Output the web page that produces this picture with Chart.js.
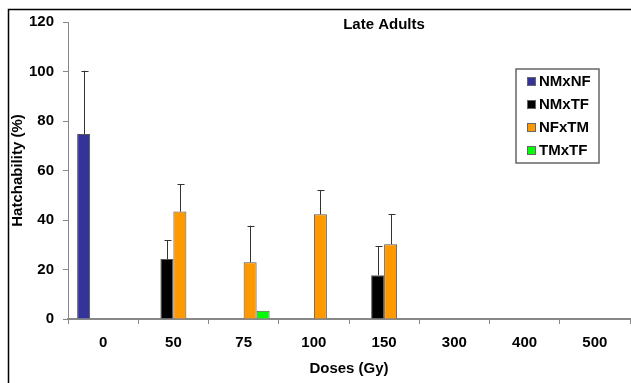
<!DOCTYPE html>
<html>
<head>
<meta charset="utf-8">
<script src="https://cdn.jsdelivr.net/npm/chart.js@4.4.1/dist/chart.umd.min.js"></script>
<style>
  body { margin: 0; background: #fff; }
</style>
</head>
<body>
<canvas id="hatch" width="631" height="383"></canvas>
<script>
// doses on the x axis
const doses = ["0", "50", "75", "100", "150", "300", "400", "500"];

// mean hatchability (%) per cross, null = no bar
const nmxnf = [74.7, null, null, null, null, null, null, null];
const nmxtf = [null, 24.2, null, null, 17.7, null, null, null];
const nfxtm = [null, 43.4, 22.9, 42.3, 30.2, null, null, null];
const tmxtf = [null, null, 3.3, null, null, null, null, null];

// upper error (sd) per cross
const nmxnfErr = [25.6, null, null, null, null, null, null, null];
const nmxtfErr = [null, 7.7, null, null, 11.7, null, null, null];
const nfxtmErr = [null, 11.0, 14.8, 9.7, 12.1, null, null, null];
const tmxtfErr = [null, null, null, null, null, null, null, null];

const yTicks = [0, 20, 40, 60, 80, 100, 120];

const FONT = "'Liberation Sans', Arial, sans-serif";

// error bars (upper half only, like the excel original)
const errorBars = {
  id: "errorBars",
  afterDatasetsDraw(chart) {
    const ctx = chart.ctx;
    const y = chart.scales.y;
    chart.data.datasets.forEach((ds, i) => {
      const meta = chart.getDatasetMeta(i);
      meta.data.forEach((bar, j) => {
        const v = ds.data[j], e = ds.errors[j];
        if (v == null || e == null) return;
        const top = y.getPixelForValue(v + e);
        const x = Math.round(bar.x) + 0.5;
        ctx.save();
        ctx.strokeStyle = "#333";
        ctx.lineWidth = 1;
        ctx.beginPath();
        ctx.moveTo(x, bar.y);
        ctx.lineTo(x, top);
        ctx.moveTo(x - 3, Math.round(top) + 0.5);
        ctx.lineTo(x + 4, Math.round(top) + 0.5);
        ctx.stroke();
        ctx.restore();
      });
    });
  }
};

// frame, title and the boxed legend
const decor = {
  id: "decor",
  afterDraw(chart) {
    const ctx = chart.ctx;
    ctx.save();
    ctx.strokeStyle = "#000";
    ctx.lineWidth = 1.5;
    ctx.beginPath();
    ctx.moveTo(8.5, 383);
    ctx.lineTo(8.5, 9.5);
    ctx.lineTo(631, 9.5);
    ctx.stroke();

    ctx.fillStyle = "#000";
    ctx.font = "bold 15px " + FONT;
    ctx.textAlign = "center";
    ctx.textBaseline = "middle";
    ctx.fillText("Late Adults", 384, 25);

    // legend box
    ctx.strokeStyle = "#666";
    ctx.lineWidth = 1.5;
    ctx.strokeRect(516, 69, 83, 94);
    ctx.textAlign = "left";
    chart.data.datasets.forEach((ds, i) => {
      const cy = 82 + i * 23;
      ctx.fillStyle = ds.backgroundColor;
      ctx.fillRect(528, cy - 4, 7, 7);
      ctx.strokeStyle = "#666";
      ctx.lineWidth = 1;
      ctx.strokeRect(527.5, cy - 4.5, 8, 8);
      ctx.fillStyle = "#000";
      ctx.fillText(ds.label, 539, cy);
    });
    ctx.restore();
  }
};

const config = {
  type: "bar",
  data: {
    labels: doses,
    datasets: [
      { label: "NMxNF", data: nmxnf, errors: nmxnfErr, backgroundColor: "#333399" },
      { label: "NMxTF", data: nmxtf, errors: nmxtfErr, backgroundColor: "#000000" },
      { label: "NFxTM", data: nfxtm, errors: nfxtmErr, backgroundColor: "#FF9900" },
      { label: "TMxTF", data: tmxtf, errors: tmxtfErr, backgroundColor: "#00FF00" }
    ].map(d => Object.assign(d, {
      borderColor: "#555",
      borderWidth: 1,
      categoryPercentage: 0.74,
      barPercentage: 1
    }))
  },
  options: {
    responsive: false,
    animation: false,
    layout: { padding: { left: 8, right: 1, top: 22, bottom: 0 } },
    plugins: {
      legend: { display: false },
      title: { display: false },
      tooltip: { enabled: false }
    },
    scales: {
      x: {
        offset: true,
        grid: { offset: true, drawOnChartArea: false, drawTicks: true, tickLength: 5, color: "#888" },
        border: { color: "#888", width: 2 },
        ticks: { color: "#000", padding: 10, font: { family: FONT, size: 15, weight: "bold" } },
        title: {
          display: true, text: "Doses (Gy)", color: "#000",
          padding: { top: 5, bottom: 5 },
          font: { family: FONT, size: 15, weight: "bold" }
        },
        afterFit(s) { s.height = 64; }
      },
      y: {
        min: 0, max: 120,
        afterBuildTicks(s) { s.ticks = yTicks.map(v => ({ value: v })); },
        grid: { drawOnChartArea: false, drawTicks: true, tickLength: 5, color: "#888" },
        border: { color: "#888", width: 1 },
        ticks: { color: "#000", padding: 9, font: { family: FONT, size: 15, weight: "bold" } },
        title: {
          display: true, text: "Hatchability (%)", color: "#000",
          padding: { top: 1, bottom: 1 },
          font: { family: FONT, size: 15, weight: "bold" }
        },
        afterFit(s) { s.width = 60; }
      }
    }
  },
  plugins: [errorBars, decor]
};

const hatchChart = new Chart(document.getElementById("hatch"), config);
</script>
</body>
</html>
